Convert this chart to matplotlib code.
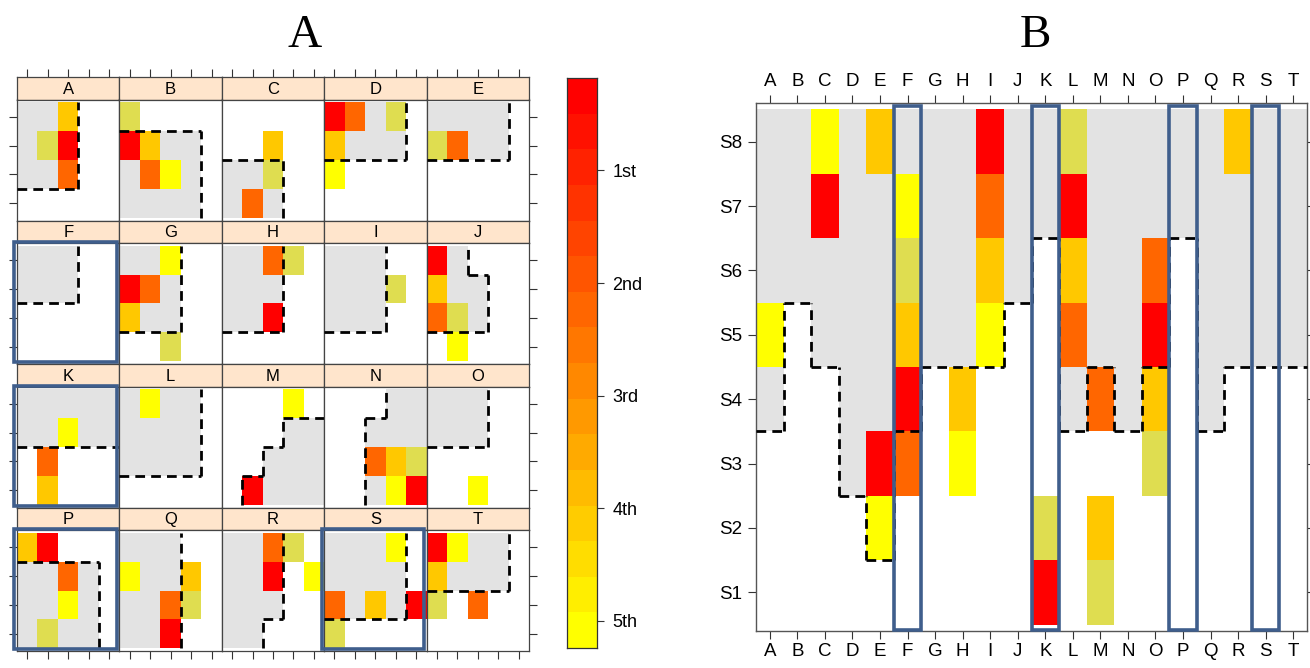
import colorsys
import numpy as np
import matplotlib
matplotlib.use("Agg")
import matplotlib.pyplot as plt
from matplotlib.patches import Rectangle

W, H = 1310, 668

# ---------------------------------------------------------------- data
letters = list("ABCDEFGHIJKLMNOPQRST")
site_labels = ["S1", "S2", "S3", "S4", "S5", "S6", "S7", "S8"]
rank_labels = ["1st", "2nd", "3rd", "4th", "5th"]
highlight = ["F", "K", "P", "S"]

# rank codes used in the grids ('.' = empty cell)
rank_colors = {"1": "#FF0000", "2": "#FF6600", "4": "#FFC800",
               "5": "#FFFF00", "6": "#DFDD50"}
shade_color = "#E3E3E3"
frame_color = "#444444"
box_color = "#3F5E8C"

# small panels: rows listed top to bottom, 5 columns each
small_ranks = {
    "A": ["..4..", ".61..", "..2..", "....."],
    "B": ["6....", "14...", ".25..", "....."],
    "C": [".....", "..4..", "..6..", ".2..."],
    "D": ["12.6.", "4....", "5....", "....."],
    "E": [".....", "62...", ".....", "....."],
    "F": [".....", ".....", ".....", "....."],
    "G": ["..5..", "12...", "4....", "..6.."],
    "H": ["..26.", ".....", "..1..", "....."],
    "I": [".....", "...6.", ".....", "....."],
    "J": ["1....", "4....", "26...", ".5..."],
    "K": [".....", "..5..", ".2...", ".4..."],
    "L": [".5...", ".....", ".....", "....."],
    "M": ["...5.", ".....", ".....", ".1..."],
    "N": [".....", ".....", "..246", "...51"],
    "O": [".....", ".....", ".....", "..5.."],
    "P": ["41...", "..2..", "..5..", ".6..."],
    "Q": [".....", "5..4.", "..26.", "..1.."],
    "R": ["..26.", "..1.5", ".....", "....."],
    "S": ["...5.", ".....", "2.4.1", "6...."],
    "T": ["15...", "4....", "6.2..", "....."],
}
small_shade = {
    "A": ["###..", "###..", "###..", "....."],
    "B": [".....", "####.", "####.", "####."],
    "C": [".....", ".....", "###..", "###.."],
    "D": ["####.", "####.", ".....", "....."],
    "E": ["####.", "####.", ".....", "....."],
    "F": ["###..", "###..", ".....", "....."],
    "G": ["###..", "###..", "###..", "....."],
    "H": ["###..", "###..", "###..", "....."],
    "I": ["###..", "###..", "###..", "....."],
    "J": ["##...", "###..", "###..", "....."],
    "K": ["#####", "#####", ".....", "....."],
    "L": ["####.", "####.", "####.", "....."],
    "M": [".....", "...##", "..###", ".####"],
    "N": ["...##", "..###", "..###", "..###"],
    "O": ["###..", "###..", ".....", "....."],
    "P": [".....", "####.", "####.", "####."],
    "Q": ["###..", "###..", "###..", "###.."],
    "R": ["###..", "###..", "###..", "##..."],
    "S": ["####.", "####.", "####.", "....."],
    "T": ["####.", "####.", ".....", "....."],
}

# big panel: one string per column, sites S8 (top) down to S1
site_ranks = {
    "A": "...5....", "B": "........", "C": "51......", "D": "........",
    "E": "4....15.", "F": ".56412..", "G": "........", "H": "....45..",
    "I": "1245....", "J": "........", "K": "......61", "L": "6142....",
    "M": "....2.46", "N": "........", "O": "..2146..", "P": "........",
    "Q": "........", "R": "4.......", "S": "........", "T": "........",
}
# lowest shaded site index per column (shading runs up to S8)
shade_floor = [4, 6, 5, 3, 2, 4, 5, 5, 5, 6, 7, 4, 5, 4, 5, 7, 4, 5, 5, 5]

# colour bar scale
bar_lo, bar_hi, bar_bands = 0.18, 5.24, 16

# ---------------------------------------------------------------- helpers
SANS = ["Liberation Sans", "DejaVu Sans"]
SERIF = ["Liberation Serif", "DejaVu Serif"]
DASH = (0, (3.5, 2.2))


def add_px_axes(fig, x0, y0, x1, y1):
    return fig.add_axes([x0 / W, 1 - y1 / H, (x1 - x0) / W, (y1 - y0) / H])


def merge_runs(idx):
    runs, start, prev = [], None, None
    for i in idx:
        if start is None:
            start = prev = i
        elif i == prev + 1:
            prev = i
        else:
            runs.append((start, prev))
            start = prev = i
    if start is not None:
        runs.append((start, prev))
    return runs


def draw_grid(ax, rank_rows, shade_rows, lw=2.0):
    """rank_rows / shade_rows are listed top row first."""
    ranks = rank_rows[::-1]
    shade = np.array([[ch == "#" for ch in row] for row in shade_rows[::-1]])
    nrow, ncol = shade.shape

    rr, cc = np.nonzero(shade)
    if len(rr):
        ax.bar(cc + 1, 1, bottom=rr + 0.5, width=1, color=shade_color,
               linewidth=0, zorder=1)
    for r, row in enumerate(ranks):
        for c, ch in enumerate(row):
            if ch != ".":
                ax.bar(c + 1, 1, bottom=r + 0.5, width=1,
                       color=rank_colors[ch], linewidth=0, zorder=2)

    # dashed outline of the shaded region (inner edges only)
    for r in range(1, nrow):
        diff = [c for c in range(ncol) if shade[r - 1, c] != shade[r, c]]
        for a, b in merge_runs(diff):
            ax.plot([a + 0.5, b + 1.5], [r + 0.5, r + 0.5], color="black",
                    lw=lw, ls=DASH, zorder=3, solid_capstyle="butt",
                    dash_capstyle="butt", clip_on=False)
    for c in range(1, ncol):
        diff = [r for r in range(nrow) if shade[r, c - 1] != shade[r, c]]
        for a, b in merge_runs(diff):
            ax.plot([c + 0.5, c + 0.5], [a + 0.5, b + 1.5], color="black",
                    lw=lw, ls=DASH, zorder=3, dash_capstyle="butt",
                    clip_on=False)


def style_frame(ax, color=frame_color, lw=0.9):
    for s in ax.spines.values():
        s.set_color(color)
        s.set_linewidth(lw)


# ---------------------------------------------------------------- figure
plt.rcParams["font.family"] = SANS
fig = plt.figure(figsize=(W / 100, H / 100), dpi=100)

# ----- left: 4 x 5 lattice of small panels
left0, pw = 17.0, 102.4
row_top = [77.0, 220.5, 364.0, 507.5]
strip_h, body_h = 22.5, 121.0

for k, name in enumerate(letters):
    i, j = divmod(k, 5)
    x0 = left0 + j * pw
    x1 = x0 + pw
    st = row_top[i]
    sax = add_px_axes(fig, x0, st, x1, st + strip_h)
    sax.set_facecolor("#FFE5CC")
    sax.set_xlim(0.5, 5.5)
    sax.set_ylim(0, 1)
    sax.set_yticks([])
    sax.text(3, 0.45, name, ha="center", va="center", fontsize=12)
    style_frame(sax)
    if i == 0:
        sax.xaxis.tick_top()
        sax.set_xticks(range(1, 6))
        sax.set_xticklabels([])
        sax.tick_params(axis="x", length=6, width=0.8, color="#333333",
                        direction="out")
    else:
        sax.set_xticks([])

    bax = add_px_axes(fig, x0, st + strip_h, x1, st + strip_h + body_h)
    bax.set_xlim(0.5, 5.5)
    bax.set_ylim(0.4, 4.6)
    style_frame(bax)
    draw_grid(bax, small_ranks[name], small_shade[name], lw=2.0)

    bax.set_xticks(range(1, 6) if i == 3 else [])
    bax.set_xticklabels([])
    bax.set_yticks(range(1, 5) if j in (0, 4) else [])
    bax.set_yticklabels([])
    bax.tick_params(length=6, width=0.8, color="#333333", direction="out",
                    left=(j == 0), right=(j == 4), bottom=(i == 3), top=False)

    if name in highlight:
        bax.add_patch(Rectangle((-0.025, 0.015), 1.0, 0.99,
                                transform=bax.transAxes, fill=False,
                                edgecolor=box_color, lw=2.6, zorder=5,
                                clip_on=False))

fig.text(305 / W, 1 - 36 / H, "A", ha="center", va="center",
         fontsize=34, family=SERIF)

# ----- colour bar
cax = add_px_axes(fig, 567, 78, 597, 648)
edges = np.linspace(bar_lo, bar_hi, bar_bands + 1)
band_cols = [colorsys.hsv_to_rgb(t / 6.0, 1, 1)
             for t in np.linspace(0, 1, bar_bands)]
cax.bar(0.5, np.diff(edges), bottom=edges[:-1], width=1, color=band_cols,
        linewidth=0)
cax.set_xlim(0, 1)
cax.set_ylim(bar_hi, bar_lo)
cax.set_xticks([])
cax.yaxis.tick_right()
cax.set_yticks(range(1, 6))
cax.set_yticklabels(rank_labels, fontsize=13)
cax.tick_params(axis="y", length=5, width=0.8, color="#333333", pad=6)
style_frame(cax, color="#333333", lw=0.9)

# ----- right: sites x letters
ax = add_px_axes(fig, 756, 103, 1307, 631)
ax.set_xlim(0.5, 20.5)
ax.set_ylim(0.4, 8.6)
ncol = len(letters)
big_ranks = ["".join(site_ranks[l][r] for l in letters) for r in range(8)]
big_shade = ["".join("#" if 8 - r >= shade_floor[c] else "."
                     for c in range(ncol)) for r in range(8)]
draw_grid(ax, big_ranks, big_shade, lw=2.0)

ax.set_xticks(range(1, 21))
ax.set_xticklabels(letters, fontsize=13.5)
ax.set_yticks(range(1, 9))
ax.set_yticklabels(site_labels, fontsize=13.5)
ax.tick_params(axis="x", top=True, labeltop=True, bottom=True,
               labelbottom=True, length=6, width=0.8, color="#333333",
               pad=3)
ax.tick_params(axis="y", left=True, right=True, labelleft=True,
               labelright=False, length=6, width=0.8, color="#333333",
               pad=4)
style_frame(ax, color="#555555", lw=1.0)

for name in highlight:
    c = letters.index(name) + 1
    ax.add_patch(Rectangle((c - 0.5, 0.42), 1.0, 8.13, fill=False,
                           edgecolor=box_color, lw=2.6, zorder=5,
                           clip_on=False))

fig.text(1035 / W, 1 - 36 / H, "B", ha="center", va="center",
         fontsize=34, family=SERIF)

fig.savefig("out.png", dpi=100)
